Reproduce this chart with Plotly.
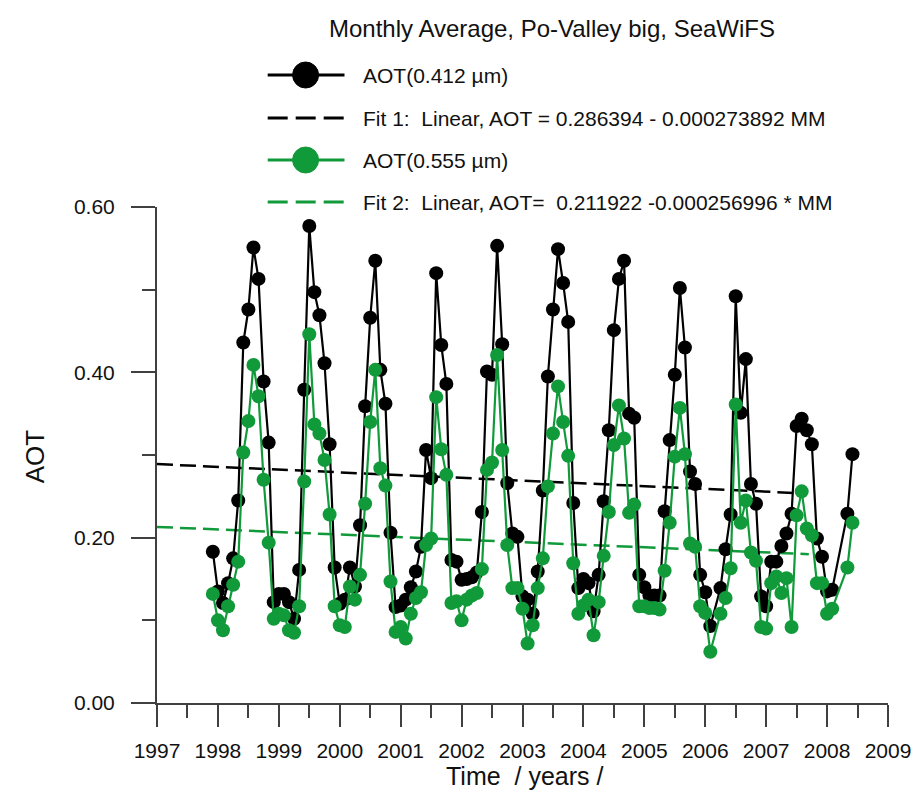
import plotly.graph_objects as go

# ---------------- data ----------------
start_year = 1997
start_month = 12  # first sample: Dec 1997

aot_412 = [
    0.183,
    0.135, 0.121, 0.145, 0.175, 0.245, 0.436, 0.476, 0.551, 0.513, 0.389, 0.315, 0.122,  # 1998
    0.132, 0.132, 0.122, 0.102, 0.161, 0.379, 0.577, 0.497, 0.469, 0.411, 0.313, 0.164,  # 1999
    0.120, 0.125, 0.164, 0.141, 0.215, 0.359, 0.466, 0.535, 0.403, 0.362, 0.206, 0.116,  # 2000
    0.118, 0.125, 0.140, 0.159, 0.189, 0.306, 0.272, 0.520, 0.433, 0.386, 0.173, 0.171,  # 2001
    0.149, 0.150, 0.152, 0.158, 0.231, 0.401, 0.397, 0.553, 0.434, 0.266, 0.205, 0.201,  # 2002
    0.129, 0.125, 0.108, 0.159, 0.257, 0.395, 0.476, 0.549, 0.508, 0.461, 0.242, 0.139,  # 2003
    0.150, 0.145, 0.111, 0.155, 0.244, 0.330, 0.451, 0.513, 0.535, 0.350, 0.345, 0.155,  # 2004
    0.140, 0.130, 0.130, 0.130, 0.232, 0.318, 0.397, 0.502, 0.430, 0.280, 0.265, 0.155,  # 2005
    0.134, 0.093, None, 0.139, 0.186, 0.228, 0.492, 0.351, 0.416, 0.265, 0.241, 0.129,  # 2006
    0.117, 0.171, 0.171, 0.190, 0.205, 0.229, 0.335, 0.344, 0.330, 0.313, 0.199, 0.177,  # 2007
    0.135, 0.137, None, None, 0.229, 0.301,                                              # 2008
]

aot_555 = [
    0.132,
    0.100, 0.088, 0.117, 0.143, 0.171, 0.303, 0.341, 0.409, 0.371, 0.270, 0.194, 0.102,  # 1998
    0.108, 0.106, 0.088, 0.085, 0.117, 0.268, 0.446, 0.337, 0.326, 0.294, 0.228, 0.117,  # 1999
    0.094, 0.092, 0.141, 0.125, 0.155, 0.241, 0.340, 0.403, 0.284, 0.263, 0.147, 0.086,  # 2000
    0.092, 0.078, 0.108, 0.127, 0.134, 0.191, 0.199, 0.370, 0.307, 0.276, 0.121, 0.123,  # 2001
    0.100, 0.125, 0.130, 0.133, 0.162, 0.282, 0.291, 0.421, 0.306, 0.191, 0.139, 0.139,  # 2002
    0.114, 0.072, 0.094, 0.139, 0.175, 0.262, 0.326, 0.383, 0.340, 0.299, 0.169, 0.108,  # 2003
    0.118, 0.125, 0.082, 0.122, 0.178, 0.231, 0.312, 0.360, 0.320, 0.230, 0.240, 0.117,  # 2004
    0.117, 0.115, 0.115, 0.113, 0.160, 0.218, 0.298, 0.357, 0.301, 0.193, 0.189, 0.117,  # 2005
    0.109, 0.062, None, 0.108, 0.127, 0.163, 0.361, 0.218, 0.245, 0.182, 0.172, 0.092,  # 2006
    0.090, 0.145, 0.153, 0.133, 0.151, 0.092, 0.227, 0.256, 0.211, 0.203, 0.145, 0.145,  # 2007
    0.108, 0.114, None, None, 0.164, 0.218,                                              # 2008
]

# linear fit lines (end points)
fit1_x = [1997.0, 2007.5]
fit1_y = [0.289, 0.254]
fit2_x = [1997.0, 2007.7]
fit2_y = [0.213, 0.180]

year_ticks = list(range(1997, 2010))
aot_ticks = [0.0, 0.2, 0.4, 0.6]

title_text = "Monthly Average, Po-Valley big, SeaWiFS"
legend_labels = [
    "AOT(0.412 \u00b5m)",
    "Fit 1:  Linear, AOT = 0.286394 - 0.000273892 MM",
    "AOT(0.555 \u00b5m)",
    "Fit 2:  Linear, AOT=  0.211922 -0.000256996 * MM",
]

# ---------------- figure ----------------
months = [start_year + (start_month - 1 + i) / 12.0 for i in range(len(aot_412))]

BLACK = "#000000"
GREEN = "#119a3a"
AXC = "#404040"
TXT = "#111111"
FONT = "Liberation Sans, Arial, Helvetica, sans-serif"

OFF = 8                      # page body margin
W, H = 915, 793
L, R, T, B = 149, 33, 199, 98
PW, PH = W - L - R, H - T - B


def pxx(px):  # screen pixel -> paper
    return (px - OFF - L) / PW


def pxy(py):
    return (H - B - (py - OFF)) / PH


fig = go.Figure()
fig.add_trace(go.Scatter(x=fit1_x, y=fit1_y, mode="lines",
                         line=dict(color=BLACK, width=2.5, dash="16px,7px"),
                         showlegend=False, hoverinfo="skip"))
fig.add_trace(go.Scatter(x=fit2_x, y=fit2_y, mode="lines",
                         line=dict(color=GREEN, width=2.5, dash="16px,7px"),
                         showlegend=False, hoverinfo="skip"))
fig.add_trace(go.Scatter(x=months, y=aot_412, mode="lines+markers", connectgaps=True,
                         line=dict(color=BLACK, width=2.2),
                         marker=dict(color=BLACK, size=14),
                         showlegend=False, name=legend_labels[0]))
fig.add_trace(go.Scatter(x=months, y=aot_555, mode="lines+markers", connectgaps=True,
                         line=dict(color=GREEN, width=2.2),
                         marker=dict(color=GREEN, size=14),
                         showlegend=False, name=legend_labels[2]))

# ---- hand-drawn legend block (layout decoration) ----
rows_y = [75, 118, 160, 202]
sx0, sx1, sxc = 268, 345, 306
text_x = 362
shapes = []
annotations = []
styles = [(BLACK, "solid", True), (BLACK, "dash", False), (GREEN, "solid", True), (GREEN, "dash", False)]
for (col, dash, marker), ry, lab in zip(styles, rows_y, legend_labels):
    shapes.append(dict(type="line", xref="paper", yref="paper",
                       x0=pxx(sx0), x1=pxx(sx1), y0=pxy(ry), y1=pxy(ry),
                       line=dict(color=col, width=2.8,
                                 dash=("solid" if dash == "solid" else "20px,8px"))))
    if marker:
        shapes.append(dict(type="circle", xref="paper", yref="paper",
                           xsizemode="pixel", ysizemode="pixel",
                           xanchor=pxx(sxc), yanchor=pxy(ry),
                           x0=-13, x1=13, y0=-13, y1=13,
                           fillcolor=col, line=dict(color=col, width=1)))
    annotations.append(dict(text=lab, xref="paper", yref="paper",
                            x=pxx(text_x), y=pxy(ry), xanchor="left", yanchor="middle",
                            showarrow=False, font=dict(size=21, color=TXT, family=FONT)))

annotations.append(dict(text=title_text, xref="paper", yref="paper",
                        x=pxx(553), y=pxy(28), xanchor="center", yanchor="middle",
                        showarrow=False, font=dict(size=24, color=TXT, family=FONT)))
annotations.append(dict(text="Time  / years /", xref="paper", yref="paper",
                        x=pxx(526), y=pxy(776), xanchor="center", yanchor="middle",
                        showarrow=False, font=dict(size=25, color=TXT, family=FONT)))
annotations.append(dict(text="AOT", xref="paper", yref="paper",
                        x=pxx(35), y=pxy(456), xanchor="center", yanchor="middle",
                        textangle=-90,
                        showarrow=False, font=dict(size=26, color=TXT, family=FONT)))

fig.update_layout(
    width=W, height=H,
    margin=dict(l=L, r=R, t=T, b=B, pad=0),
    paper_bgcolor="white", plot_bgcolor="white",
    font=dict(family=FONT, color=TXT),
    shapes=shapes, annotations=annotations,
    showlegend=False,
)
fig.update_xaxes(
    range=[1997, 2009], tickmode="array", tickvals=year_ticks,
    ticktext=[str(y) for y in year_ticks],
    ticks="outside", ticklen=22, tickwidth=1.5, tickcolor=AXC,
    showline=True, linecolor=AXC, linewidth=2,
    showgrid=False, zeroline=False,
    tickfont=dict(size=21, family=FONT, color=TXT),
    ticklabelstandoff=6,
    minor=dict(tickmode="linear", tick0=1997.5, dtick=1, ticks="outside", ticklen=13,
               tickwidth=1.5, tickcolor=AXC, showgrid=False),
)
fig.update_yaxes(
    range=[0, 0.6], tickmode="array", tickvals=aot_ticks,
    ticktext=["%.2f" % v for v in aot_ticks],
    ticks="outside", ticklen=24, tickwidth=1.5, tickcolor=AXC,
    showline=True, linecolor=AXC, linewidth=2,
    showgrid=False, zeroline=False,
    tickfont=dict(size=21, family=FONT, color=TXT),
    ticklabelstandoff=12,
    minor=dict(tickmode="linear", tick0=0.1, dtick=0.2, ticks="outside", ticklen=13,
               tickwidth=1.5, tickcolor=AXC, showgrid=False),
)

fig.write_html("out.html")
